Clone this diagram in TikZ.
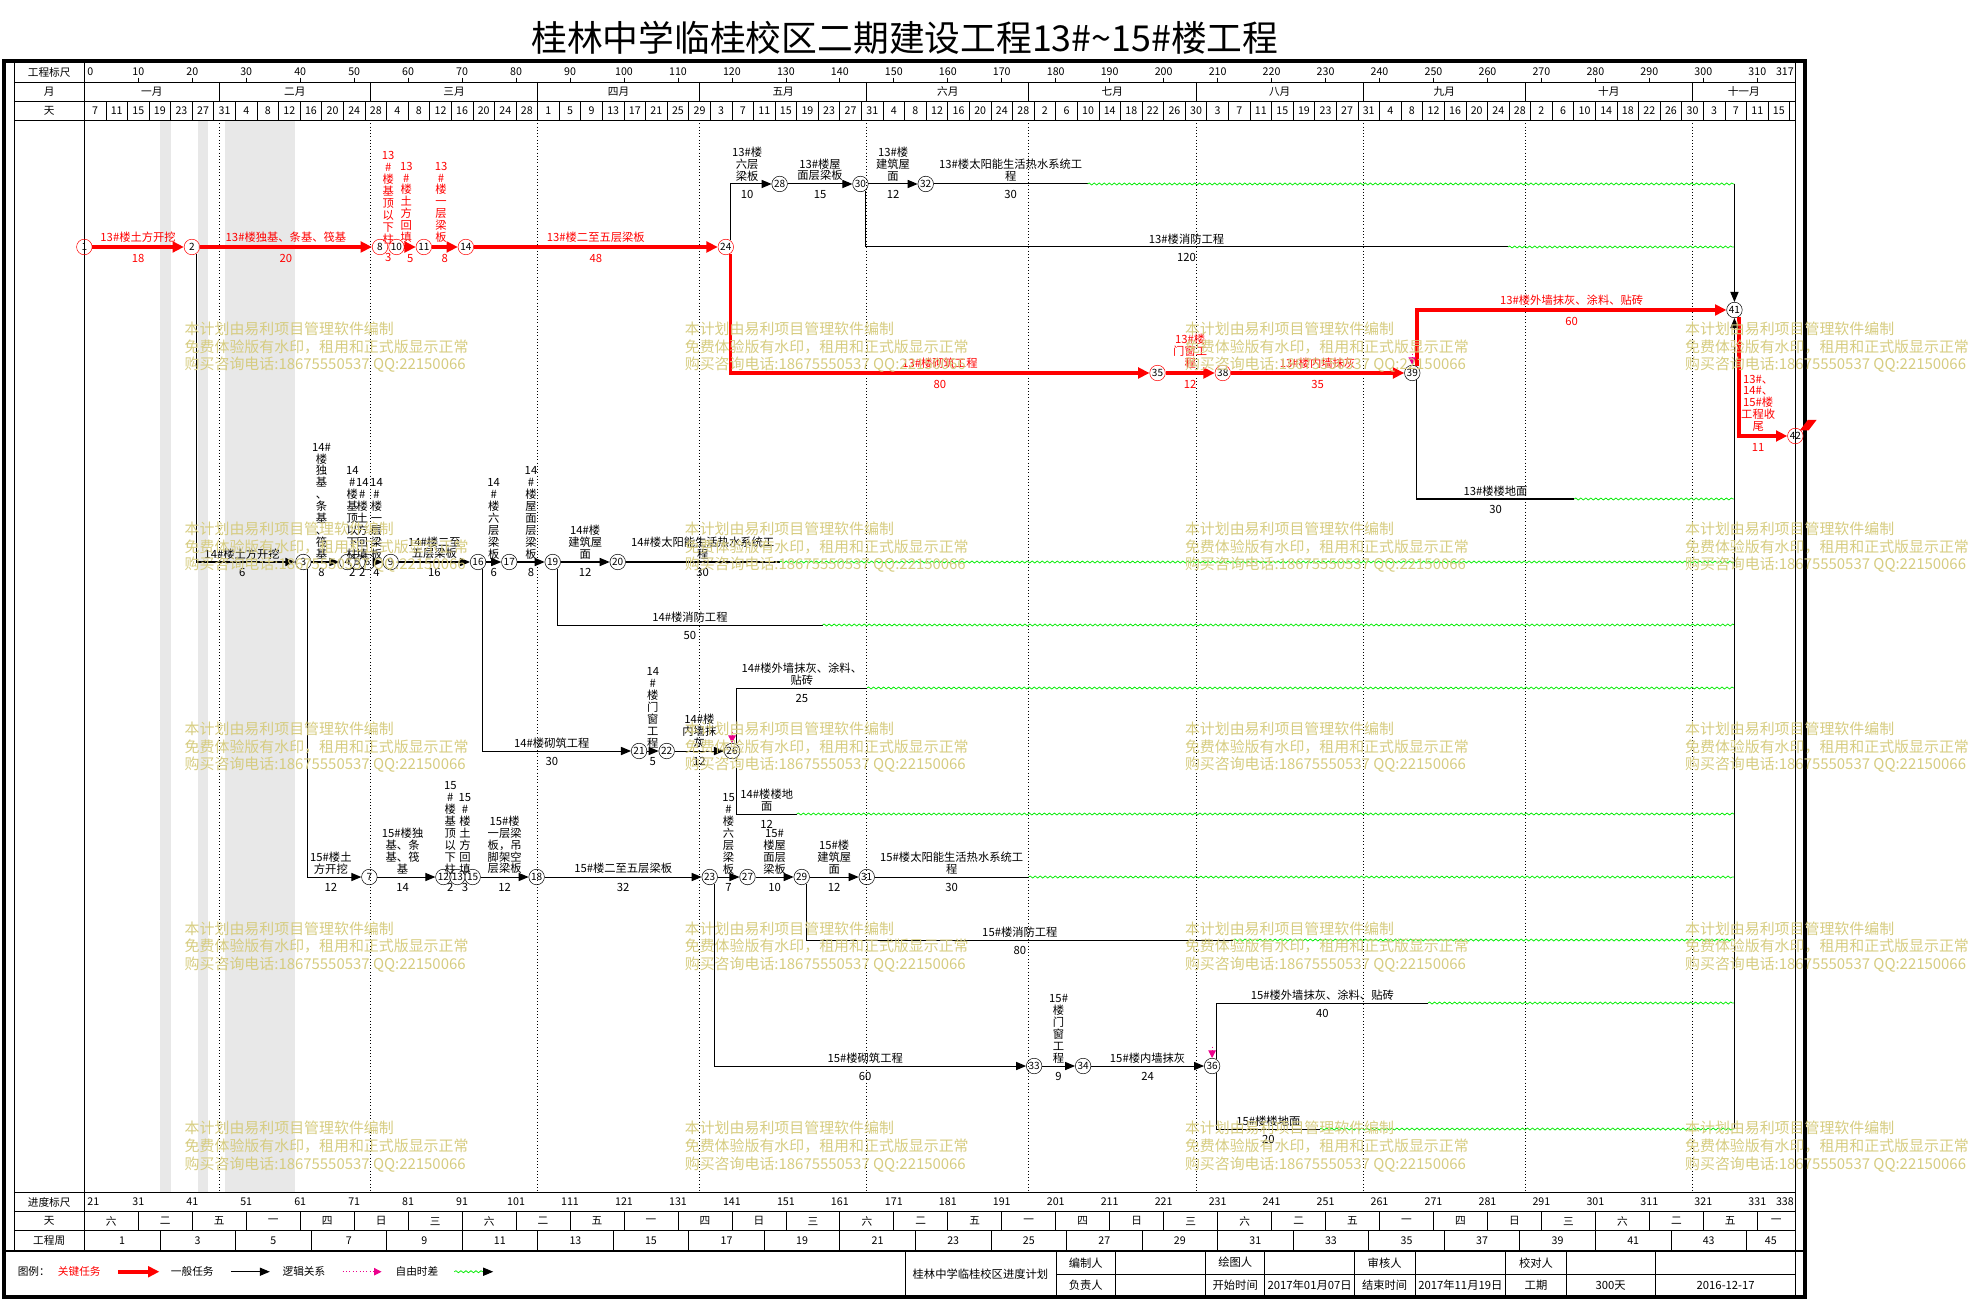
\documentclass[tikz,border=0pt]{standalone}
\usepackage{fontspec}
\setmainfont{Noto Sans CJK SC}
\usepackage{xcolor}
\usepackage{tikz}
\usetikzlibrary{arrows.meta,decorations.pathmorphing}
\definecolor{wmcol}{RGB}{214,204,128}
\definecolor{fltgreen}{RGB}{0,235,0}

\begin{document}
\begin{tikzpicture}[x=1pt, y=-1pt,
  nd/.style={circle, draw, minimum size=12.4pt, inner sep=0pt, font=\fontsize{8}{8}\selectfont},
  cnd/.style={nd, draw=red},
  act/.style={draw, line width=0.8pt},
  task/.style={act, -{Triangle[length=8pt,width=6.5pt]}},
  crit/.style={draw=red, line width=3pt, -{Triangle[length=9pt,width=8.5pt]}},
  flt/.style={draw=fltgreen, line width=0.6pt, decorate,
    decoration={snake, amplitude=0.8pt, segment length=4pt}},
  logic/.style={draw=magenta, dotted, line width=0.7pt, -{Triangle[length=6pt,width=6pt]}},
  lab/.style={inner sep=0pt, align=center, font=\fontsize{9}{9.5}\selectfont},
  tl/.style={lab, above=2pt},
  dl/.style={lab, below=4.5pt},
  ctl/.style={tl, text=red},
  cdl/.style={dl, text=red},
  hd/.style={inner sep=0pt, font=\fontsize{8.5}{9}\selectfont},
  tb/.style={inner sep=0pt, font=\fontsize{9}{9}\selectfont},
  rule/.style={line width=0.6pt},
  wm/.style={anchor=west, inner sep=0pt, text=wmcol, font=\fontsize{11.9}{12}\selectfont}
]
\useasboundingbox (0,0) rectangle (1568.1,1037.5);

\node[inner sep=0pt, font=\fontsize{28.5}{30}\selectfont] (title) at (721,30)
  {桂林中学临桂校区二期建设工程13\#\textasciitilde15\#楼工程};

% non working days
\fill[black!9] (127.4,95.6) rectangle (136,950);
\fill[black!9] (157.5,95.6) rectangle (166.1,950);
\fill[black!9] (179,95.6) rectangle (234.9,950);

% month lines
\foreach \dd in {25,53,84,114,145,175,206,237,267,298}
  \draw[dotted, line width=0.6pt] ({67.2+4.3*\dd},95.6) -- ({67.2+4.3*\dd},950);

% frame and table
\draw[line width=3.2pt] (2.9,48.9) rectangle (1438.3,1033.8);
\draw[rule] (11.1,50.5) -- (11.1,996.8);
\draw[rule] (67.2,50.5) -- (67.2,996.8);
\draw[rule] (1430.7,50.5) -- (1430.7,1033);
\foreach \yy in {65.3,80.7,95.6,950,965.5,980.6}
  \draw[rule] (11.1,\yy) -- (1430.7,\yy);
\draw[line width=2pt] (2.9,996.8) -- (1438.3,996.8);

% header
\node[hd] (hA) at (39.2,57.6) {工程标尺};
\node[hd] (hB) at (39.2,73) {月};
\node[hd] (hC) at (39.2,88.2) {天};
\node[hd, anchor=west] (s0) at (69.5,57.1) {0};
\foreach \tk in {10,20,...,310} {
  \node[hd] (s\tk) at ({67.2+4.3*\tk},57.1) {\tk};
  \draw[rule] ({67.2+4.3*\tk},61.8) -- ({67.2+4.3*\tk},65.3);
}
\node[hd, anchor=east] (s317) at (1429.5,57.1) {317};
\foreach \va/\vb/\mn in {0/25/一月,25/53/二月,53/84/三月,84/114/四月,114/145/五月,
    145/175/六月,175/206/七月,206/237/八月,237/267/九月,267/298/十月,298/317/十一月} {
  \node[hd] (mo\va) at ({67.2+4.3*(\va+\vb)/2},73) {\mn};
  \draw[rule] ({67.2+4.3*\va},65.3) -- ({67.2+4.3*\va},80.7);
}
\foreach \dn [count=\kk from 0] in {7,11,15,19,23,27,31,4,8,12,16,20,24,28,4,8,12,16,20,24,28,
    1,5,9,13,17,21,25,29,3,7,11,15,19,23,27,31,4,8,12,16,20,24,28,2,6,10,14,18,22,26,30,
    3,7,11,15,19,23,27,31,4,8,12,16,20,24,28,2,6,10,14,18,22,26,30,3,7,11,15} {
  \node[hd] (d\kk) at ({67.2+17.2*\kk+8.6},88.2) {\dn};
  \draw[rule] ({67.2+17.2*\kk},80.7) -- ({67.2+17.2*\kk},95.6);
}
\draw[rule] (1426,80.7) -- (1426,95.6);

% bottom scales
\node[hd] (bA) at (39.2,957.7) {进度标尺};
\node[hd] (bB) at (39.2,973) {天};
\node[hd] (bC) at (39.2,988.7) {工程周};
\node[hd, anchor=west] (p0) at (69.5,957.7) {21};
\foreach \tk [evaluate=\tk as \vv using int(\tk+21)] in {10,20,...,310}
  \node[hd] (p\tk) at ({67.2+4.3*\tk},957.7) {\vv};
\node[hd, anchor=east] (p317) at (1429.5,957.7) {338};
\foreach \wdy [count=\jj from 0] in {六,二,五,一,四,日,三,六,二,五,一,四,日,三,六,二,五,一,四,日,三,
    六,二,五,一,四,日,三,六,二,五,一}
  \node[hd] (w\jj) at ({67.2+4.3*min(10*\jj+5,313.5)},973) {\wdy};
\foreach \jj in {1,...,31}
  \draw[rule] ({67.2+43*\jj},965.5) -- ({67.2+43*\jj},980.6);
\foreach \jj in {0,...,22} {
  \pgfmathtruncatemacro{\wn}{2*\jj+1}
  \node[hd] (g\jj) at ({67.2+4.3*min(14*\jj+7,312.5)},988.7) {\wn};
}
\foreach \jj in {1,...,22}
  \draw[rule] ({67.2+60.2*\jj},980.6) -- ({67.2+60.2*\jj},996.8);

% 13# nodes
\node[cnd] (n1) at (67.2,196.8) {1};
\node[cnd] (n2) at (152.9,196.8) {2};
\node[cnd] (n8) at (302.8,196.8) {8};
\node[cnd] (n10) at (315.9,196.8) {10};
\node[cnd] (n11) at (337.7,196.8) {11};
\node[cnd] (n14) at (371.2,196.8) {14};
\node[cnd] (n24) at (578.3,196.8) {24};
\node[nd] (n28) at (621.2,146.6) {28};
\node[nd] (n30) at (685.6,146.6) {30};
\node[nd] (n32) at (737.6,146.6) {32};
\node[cnd] (n35) at (922.3,297.2) {35};
\node[cnd] (n38) at (974.3,297.2) {38};
\node[nd] (n39) at (1125.3,297.2) {39};
\node[nd] (n41) at (1382,247) {41};
\node[cnd] (n42) at (1430.5,347.4) {42};

% 14# nodes
\node[nd] (n3) at (241.7,447.8) {3};
\node[nd] (n4) at (276.8,447.8) {4};
\node[nd] (n5) at (284.7,447.8) {5};
\node[nd] (n6) at (292.7,447.8) {6};
\node[nd] (n9) at (311.3,447.8) {9};
\node[nd] (n16) at (380.9,447.8) {16};
\node[nd] (n17) at (405.8,447.8) {17};
\node[nd] (n19) at (440.4,447.8) {19};
\node[nd] (n20) at (492.2,447.8) {20};
\node[nd] (n21) at (509.2,598.4) {21};
\node[nd] (n22) at (531.2,598.4) {22};
\node[nd] (n26) at (583.3,598.4) {26};

% 15# nodes
\node[nd] (n7) at (294.3,698.8) {7};
\node[nd] (n12) at (353.3,698.8) {12};
\node[nd] (n13) at (364.4,698.8) {13};
\node[nd] (n15) at (376.6,698.8) {15};
\node[nd] (n18) at (427.6,698.8) {18};
\node[nd] (n23) at (565.5,698.8) {23};
\node[nd] (n27) at (595.6,698.8) {27};
\node[nd] (n29) at (638.8,698.8) {29};
\node[nd] (n31) at (690.6,698.8) {31};
\node[nd] (n33) at (824,849.4) {33};
\node[nd] (n34) at (863,849.4) {34};
\node[nd] (n36) at (965.8,849.4) {36};

% ends of the solid parts and of the free floats
\coordinate (t32) at (866.6,146.6);  \coordinate (e32) at (1382,146.6);
\coordinate (t30) at (1201.6,196.8); \coordinate (e30) at (1382,196.8);
\coordinate (t39) at (1254.3,397.6); \coordinate (e39) at (1382,397.6);
\coordinate (t20) at (621.2,447.8);  \coordinate (e20) at (1382,447.8);
\coordinate (t19) at (655.4,498);    \coordinate (e19) at (1382,498);
\coordinate (t26u) at (690.8,548.2); \coordinate (e26u) at (1382,548.2);
\coordinate (t26d) at (634.9,648.6); \coordinate (e26d) at (1382,648.6);
\coordinate (t31) at (819.6,698.8);  \coordinate (e31) at (1382,698.8);
\coordinate (t29) at (982.8,749);    \coordinate (e29) at (1382,749);
\coordinate (t36u) at (1137.8,799.2); \coordinate (e36u) at (1382,799.2);
\coordinate (t36d) at (1051.8,899.6); \coordinate (e36d) at (1382,899.6);

% 13# critical chain
\draw[crit] (n1) -- (n2) node[ctl, midway] {13\#楼土方开挖} node[cdl, midway] {18};
\draw[crit] (n2) -- (n8) node[ctl, midway] {13\#楼独基、条基、筏基} node[cdl, midway] {20};
\path (n8) -- (n10) node[ctl, midway] {13\\\#\\楼\\基\\顶\\以\\下\\柱} node[cdl, midway] {3};
\draw[crit] (n10) -- (n11) node[ctl, midway, xshift=-3pt] {13\\\#\\楼\\土\\方\\回\\填} node[cdl, midway] {5};
\draw[crit] (n11) -- (n14) node[ctl, midway, xshift=-3pt] {13\\\#\\楼\\一\\层\\梁\\板} node[cdl, midway] {8};
\draw[crit] (n14) -- (n24) node[ctl, midway] {13\#楼二至五层梁板} node[cdl, midway] {48};
\draw[crit] (n24.-55) |- (n35) node[ctl, pos=0.75] {13\#楼砌筑工程} node[cdl, pos=0.75] {80};
\draw[crit] (n35) -- (n38) node[ctl, midway] {13\#楼\\门窗工\\程} node[cdl, midway] {12};
\draw[crit] (n38) -- (n39) node[ctl, midway] {13\#楼内墙抹灰} node[cdl, midway] {35};
\draw[crit] (n39.55) |- (n41) node[ctl, pos=0.75] {13\#楼外墙抹灰、涂料、贴砖} node[cdl, pos=0.75] {60};
\draw[crit] (n41.-55) |- (n42) node[ctl, pos=0.75, xshift=-4pt] {13\#、\\14\#、\\15\#楼\\工程收\\尾}
  node[cdl, pos=0.75, xshift=-4pt] {11};
\fill[red] (1434,343) -- (1440.5,334.5) -- (1447.5,334.5) -- (1441,343) -- cycle;

% 13# other tasks
\draw[task] (n24.55) |- (n28) node[tl, pos=0.75, xshift=-3pt] {13\#楼\\六层\\梁板} node[dl, pos=0.75, xshift=-3pt] {10};
\draw[task] (n28) -- (n30) node[tl, midway] {13\#楼屋\\面层梁板} node[dl, midway] {15};
\draw[task] (n30) -- (n32) node[tl, midway] {13\#楼\\建筑屋\\面} node[dl, midway] {12};
\draw[act] (n32) -- (t32) node[tl, midway] {13\#楼太阳能生活热水系统工\\程} node[dl, midway] {30};
\draw[act] (n30.-55) |- (t30) node[tl, pos=0.75] {13\#楼消防工程} node[dl, pos=0.75] {120};
\draw[act] (n39.-55) |- (t39) node[tl, pos=0.75] {13\#楼楼地面} node[dl, pos=0.75] {30};

% 14#
\draw[task] (n2.-55) |- (n3) node[tl, pos=0.75, xshift=-3pt] {14\#楼土方开挖} node[dl, pos=0.75, xshift=-3pt] {6};
\draw[task] (n3) -- (n4) node[tl, midway, xshift=-3pt] {14\#\\楼\\独\\基\\、\\条\\基\\、\\筏\\基} node[dl, midway, xshift=-3pt] {8};
\path (n4) -- (n5) node[tl, midway] {14\\\#\\楼\\基\\顶\\以\\下\\柱} node[dl, midway] {2};
\path (n5) -- (n6) node[tl, midway] {14\\\#\\楼\\土\\方\\回\\填} node[dl, midway] {2};
\draw[task] (n6) -- (n9) node[tl, midway, xshift=-2pt] {14\\\#\\楼\\一\\层\\梁\\板} node[dl, midway, xshift=-2pt] {4};
\draw[task] (n9) -- (n16) node[tl, midway] {14\#楼二至\\五层梁板} node[dl, midway] {16};
\draw[task] (n16) -- (n17) node[tl, midway] {14\\\#\\楼\\六\\层\\梁\\板} node[dl, midway] {6};
\draw[task] (n17) -- (n19) node[tl, midway] {14\\\#\\楼\\屋\\面\\层\\梁\\板} node[dl, midway] {8};
\draw[task] (n19) -- (n20) node[tl, midway] {14\#楼\\建筑屋\\面} node[dl, midway] {12};
\draw[act] (n20) -- (t20) node[tl, midway] {14\#楼太阳能生活热水系统工\\程} node[dl, midway] {30};
\draw[act] (n19.-55) |- (t19) node[tl, pos=0.75] {14\#楼消防工程} node[dl, pos=0.75] {50};
\draw[task] (n16.-55) |- (n21) node[tl, pos=0.75, xshift=-4pt] {14\#楼砌筑工程} node[dl, pos=0.75, xshift=-4pt] {30};
\draw[task] (n21) -- (n22) node[tl, midway] {14\\\#\\楼\\门\\窗\\工\\程} node[dl, midway] {5};
\draw[task] (n22) -- (n26) node[tl, midway] {14\#楼\\内墙抹\\灰} node[dl, midway] {12};
\draw[act] (n26.55) |- (t26u) node[tl, pos=0.75] {14\#楼外墙抹灰、涂料、\\贴砖} node[dl, pos=0.75] {25};
\draw[act] (n26.-55) |- (t26d) node[tl, pos=0.75] {14\#楼楼地\\面} node[dl, pos=0.75] {12};

% 15#
\draw[task] (n3.-55) |- (n7) node[tl, pos=0.75, xshift=-3pt] {15\#楼土\\方开挖} node[dl, pos=0.75, xshift=-3pt] {12};
\draw[task] (n7) -- (n12) node[tl, midway, xshift=-3pt] {15\#楼独\\基、条\\基、筏\\基} node[dl, midway, xshift=-3pt] {14};
\path (n12) -- (n13) node[tl, midway] {15\\\#\\楼\\基\\顶\\以\\下\\柱} node[dl, midway] {2};
\path (n13) -- (n15) node[tl, midway] {15\\\#\\楼\\土\\方\\回\\填} node[dl, midway] {3};
\draw[task] (n15) -- (n18) node[tl, midway] {15\#楼\\一层梁\\板，吊\\脚架空\\层梁板} node[dl, midway] {12};
\draw[task] (n18) -- (n23) node[tl, midway] {15\#楼二至五层梁板} node[dl, midway] {32};
\draw[task] (n23) -- (n27) node[tl, midway] {15\\\#\\楼\\六\\层\\梁\\板} node[dl, midway] {7};
\draw[task] (n27) -- (n29) node[tl, midway] {15\#\\楼屋\\面层\\梁板} node[dl, midway] {10};
\draw[task] (n29) -- (n31) node[tl, midway] {15\#楼\\建筑屋\\面} node[dl, midway] {12};
\draw[act] (n31) -- (t31) node[tl, midway] {15\#楼太阳能生活热水系统工\\程} node[dl, midway] {30};
\draw[act] (n29.-55) |- (t29) node[tl, pos=0.75] {15\#楼消防工程} node[dl, pos=0.75] {80};
\draw[task] (n23.-55) |- (n33) node[tl, pos=0.75, xshift=-4pt] {15\#楼砌筑工程} node[dl, pos=0.75, xshift=-4pt] {60};
\draw[task] (n33) -- (n34) node[tl, midway] {15\#\\楼\\门\\窗\\工\\程} node[dl, midway] {9};
\draw[task] (n34) -- (n36) node[tl, midway] {15\#楼内墙抹灰} node[dl, midway] {24};
\draw[act] (n36.55) |- (t36u) node[tl, pos=0.75] {15\#楼外墙抹灰、涂料、贴砖} node[dl, pos=0.75] {40};
\draw[act] (n36.-55) |- (t36d) node[tl, pos=0.75] {15\#楼楼地面} node[dl, pos=0.75] {20};

% free floats
\foreach \xx in {32,30,39,20,19,26u,26d,31,29,36u,36d}
  \draw[flt] (t\xx) -- (e\xx);
\draw[task] (e32) -- (n41);
\draw[task] (e36d) -- (n41);

% logic links
\coordinate (lk26) at (583.3,583);
\coordinate (lk39) at (1125.3,282);
\coordinate (lk36) at (965.8,834);
\draw[logic] (lk26) -- (n26);
\draw[logic] (lk39) -- (n39);
\draw[logic] (lk36) -- (n36);

% legend
\node[hd, anchor=west] (lg0) at (14,1013.3) {图例：};
\node[hd, anchor=west, text=red] (lg1) at (46,1013.3) {关键任务};
\coordinate (la1) at (94,1013.3);  \coordinate (lb1) at (127,1013.3);
\draw[crit] (la1) -- (lb1);
\node[hd, anchor=west] (lg2) at (136,1013.3) {一般任务};
\coordinate (la2) at (184,1013.3); \coordinate (lb2) at (215,1013.3);
\draw[task] (la2) -- (lb2);
\node[hd, anchor=west] (lg3) at (225,1013.3) {逻辑关系};
\coordinate (la3) at (273,1013.3); \coordinate (lb3) at (304,1013.3);
\draw[logic] (la3) -- (lb3);
\node[hd, anchor=west] (lg4) at (315,1013.3) {自由时差};
\coordinate (la4) at (362,1013.3); \coordinate (lm4) at (385,1013.3); \coordinate (lb4) at (393,1013.3);
\draw[flt] (la4) -- (lm4);
\draw[task] (lm4) -- (lb4);

% title block
\draw[rule] (721,996.8) -- (721,1032.4);
\foreach \xx in {841.4,888.8,960.6,1007.8,1079.2,1127.4,1199.8,1248,1318.8}
  \draw[rule] (\xx,996.8) -- (\xx,1032.4);
\draw[rule] (841.4,1015.4) -- (1430.7,1015.4);
\node[tb] (tb0) at (781.2,1015) {桂林中学临桂校区进度计划};
\node[tb] (tb1) at (865.1,1006.1) {编制人};
\node[tb] (tb2) at (984.2,1006.1) {绘图人};
\node[tb] (tb3) at (1103.3,1006.1) {审核人};
\node[tb] (tb4) at (1223.9,1006.1) {校对人};
\node[tb] (tb5) at (865.1,1024) {负责人};
\node[tb] (tb6) at (984.2,1024) {开始时间};
\node[tb] (tb7) at (1043.5,1024) {2017年01月07日};
\node[tb] (tb8) at (1103.3,1024) {结束时间};
\node[tb] (tb9) at (1163.6,1024) {2017年11月19日};
\node[tb] (tb10) at (1223.9,1024) {工期};
\node[tb] (tb11) at (1283.4,1024) {300天};
\node[tb] (tb12) at (1375,1024) {2016-12-17};

% watermark
\foreach \xx [count=\ii] in {147,545.5,944,1342.5}
  \foreach \yy [count=\jj] in {262,421.3,580.5,739.8,899} {
    \node[wm] (wa\ii\jj) at (\xx,\yy) {本计划由易利项目管理软件编制};
    \node[wm] (wb\ii\jj) at ({\xx},{\yy+14.3}) {免费体验版有水印，租用和正式版显示正常};
    \node[wm] (wc\ii\jj) at ({\xx},{\yy+28.6}) {购买咨询电话:18675550537 QQ:22150066};
  }

\end{tikzpicture}
\end{document}
